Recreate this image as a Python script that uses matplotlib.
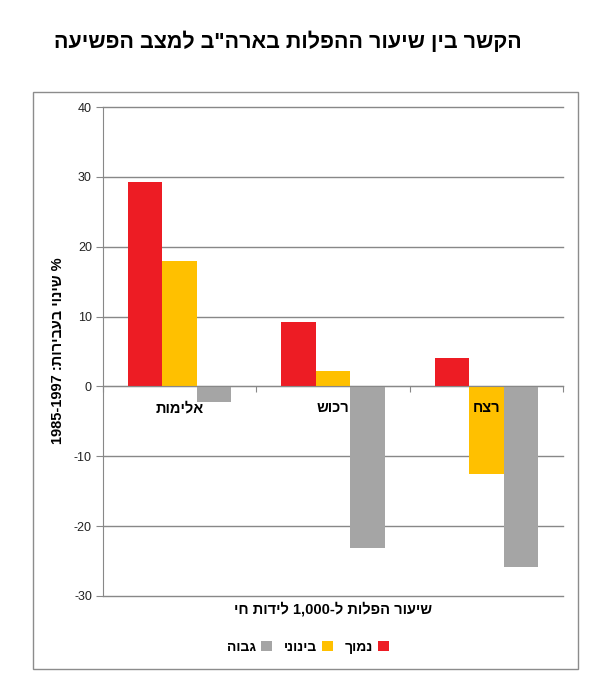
import re
import numpy as np
import matplotlib
matplotlib.use("Agg")
import matplotlib.pyplot as plt
from matplotlib.patches import Rectangle

plt.rcParams['font.family'] = ['Liberation Sans', 'DejaVu Sans']
plt.rcParams['axes.unicode_minus'] = False

# data
categories = ["אלימות", "רכוש", "רצח"]
series_names = ["נמוך", "בינוני", "גבוה"]
low = [29.2, 9.2, 4.1]
medium = [18.0, 2.2, -12.6]
high = [-2.3, -23.1, -25.9]
colors = ["#ED1C24", "#FFC000", "#A5A5A5"]
yticks = [-30, -20, -10, 0, 10, 20, 30, 40]

title = 'הקשר בין שיעור ההפלות בארה"ב למצב הפשיעה'
xlabel = "שיעור הפלות ל-1,000 לידות חי"
ylabel = "% שינוי בעבירות: 1985-1997"


def rtl(s):
    """
    matplotlib has no bidi support: reverse the string, keep number runs LTR.
    """
    r = s[::-1]
    return re.sub(r"[0-9][0-9,.\-]*[0-9]", lambda m: m.group(0)[::-1], r)


fig = plt.figure(figsize=(5.97, 6.85), dpi=100)

# outer chart frame
fig.patches.append(Rectangle((33 / 597, 1 - 669 / 685), 545 / 597, 577 / 685,
                             transform=fig.transFigure, fill=False,
                             edgecolor="#8c8c8c", linewidth=1.0))

fig.text(0.482, 1 - 42 / 685, rtl(title), ha="center", va="center",
         fontsize=15.5, fontweight="bold")

ax = fig.add_axes([103 / 597, 1 - 596 / 685, 460 / 597, 489 / 685])

x = np.arange(len(categories))
w = 0.225
for i, (vals, name) in enumerate(zip([low, medium, high], series_names)):
    ax.bar(x + (i - 1) * w, vals, width=w, color=colors[i], label=rtl(name), zorder=2)

ax.set_xlim(-0.5, 2.5)
ax.set_ylim(-30, 40)
ax.set_yticks(yticks)
ax.tick_params(axis="y", length=5, color="#888888", labelsize=9, pad=3, labelcolor="#222222")
ax.yaxis.grid(True, color="#888888", linewidth=1.0, zorder=0)
for gl in ax.get_ygridlines():
    gl.set_clip_on(False)
ax.set_axisbelow(True)

# zero line as the x axis with little ticks between categories
ax.spines["bottom"].set_position(("data", 0))
ax.spines["bottom"].set_color("#888888")
ax.spines["left"].set_color("#888888")
ax.spines["top"].set_visible(False)
ax.spines["right"].set_visible(False)
ax.set_xticks([-0.5, 0.5, 1.5, 2.5])
ax.set_xticklabels([])
ax.tick_params(axis="x", length=4, color="#888888", direction="out")

for xi, cat in zip(x, categories):
    ax.annotate(rtl(cat), (xi, 0), xytext=(0, -22), textcoords="offset pixels",
                ha="center", va="center", fontsize=10.5, fontweight="bold", zorder=5)

fig.text(333 / 597, 1 - 609 / 685, rtl(xlabel), ha="center", va="center",
         fontsize=10.5, fontweight="bold")
fig.text(58 / 597, 1 - 351 / 685, rtl(ylabel), ha="center", va="center",
         rotation=90, fontsize=10.5, fontweight="bold")

handles, labels = ax.get_legend_handles_labels()
fig.legend(handles[::-1], labels[::-1], loc="center", bbox_to_anchor=(308 / 597, 1 - 647 / 685),
           ncol=3, markerfirst=False, frameon=False,
           prop={"weight": "bold", "size": 10}, handlelength=0.75, handleheight=0.75,
           handletextpad=0.35, columnspacing=0.9)

fig.savefig("out.png", dpi=100, facecolor="white")
